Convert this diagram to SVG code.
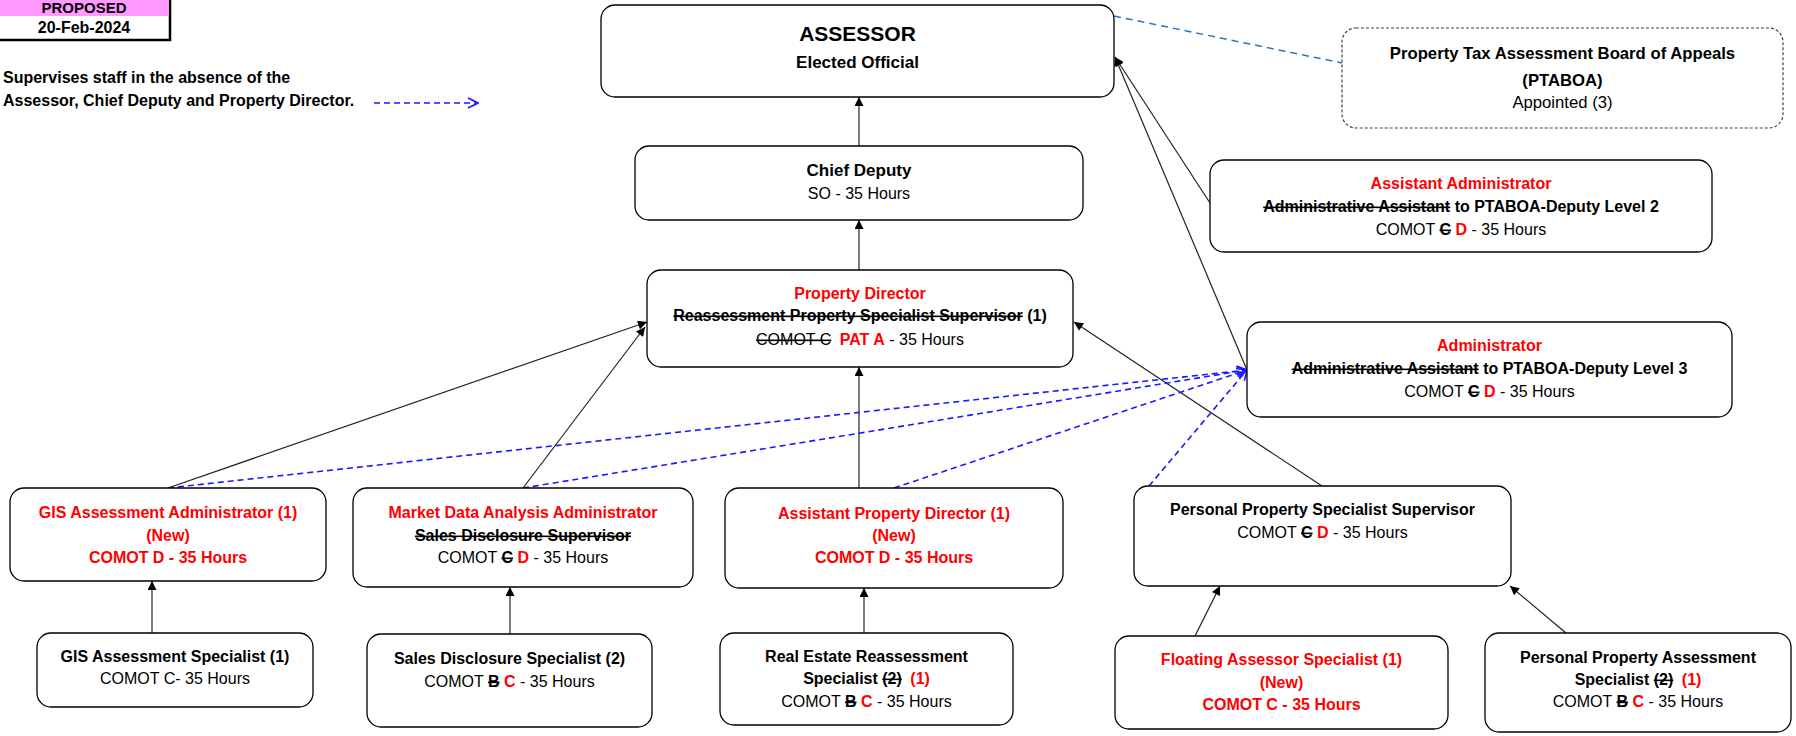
<svg xmlns="http://www.w3.org/2000/svg" width="1796" height="736" viewBox="0 0 1796 736">
<defs>
<style>
.box{fill:#fff;stroke:#000;stroke-width:1.3}
.t{font-family:"Liberation Sans",Arial,sans-serif;font-size:16px;text-anchor:middle;fill:#000}
.b{font-weight:bold}
.r{fill:#f00}
.s{text-decoration:line-through}
.c{stroke:#222;stroke-width:1.2;fill:none;marker-end:url(#ah)}
.d{stroke:#1a1aff;stroke-width:1.6;stroke-dasharray:6 4;fill:none;marker-end:url(#oh)}
</style>
<marker id="ah" viewBox="0 0 10 10" refX="10" refY="5" markerWidth="11" markerHeight="9" orient="auto" markerUnits="userSpaceOnUse"><path d="M0,0 L10,5 L0,10 z" fill="#000"/></marker>
<marker id="oh" viewBox="0 0 12 12" refX="11" refY="6" markerWidth="12" markerHeight="12" orient="auto" markerUnits="userSpaceOnUse"><path d="M1,1 L11,6 L1,11" fill="none" stroke="#1a1aff" stroke-width="1.6"/></marker>
</defs>
<rect width="1796" height="736" fill="#fff"/>

<g id="proposed">
<rect x="-3" y="-3" width="173" height="43" fill="#fff" stroke="#000" stroke-width="2.5"/>
<rect x="0" y="0" width="168.7" height="16" fill="#ff99ff"/>
<text class="t b" x="84" y="12.5" style="font-size:15px">PROPOSED</text>
<text class="t b" x="84" y="33">20-Feb-2024</text>
</g>

<g id="legend">
<text class="t b" x="3" y="83" style="text-anchor:start">Supervises staff in the absence of the</text>
<text class="t b" x="3" y="106" style="text-anchor:start">Assessor, Chief Deputy and Property Director.</text>
<line class="d" x1="374" y1="103" x2="478" y2="103"/>
</g>

<g id="connectors">
<line class="c" x1="859" y1="146" x2="859" y2="97"/>
<line class="c" x1="859" y1="270" x2="859" y2="220"/>
<line class="c" x1="1210" y1="203" x2="1115" y2="57"/>
<line class="c" x1="1247" y1="370" x2="1115" y2="57"/>
<line x1="1114" y1="16" x2="1342" y2="63" stroke="#2e75b6" stroke-width="1.5" stroke-dasharray="7 5"/>
<line class="c" x1="168" y1="488" x2="647" y2="322"/>
<line class="c" x1="523" y1="488" x2="645" y2="327"/>
<line class="c" x1="859" y1="488" x2="859" y2="367"/>
<line class="c" x1="1322" y1="486" x2="1074" y2="322"/>
<line class="c" x1="152" y1="633" x2="152" y2="581"/>
<line class="c" x1="510" y1="634" x2="510" y2="587"/>
<line class="c" x1="864" y1="633" x2="864" y2="588"/>
<line class="c" x1="1195" y1="636" x2="1220" y2="586"/>
<line class="c" x1="1566" y1="633" x2="1510" y2="586"/>
<line class="d" x1="168" y1="488" x2="1247" y2="370"/>
<line class="d" x1="523" y1="488" x2="1247" y2="370"/>
<line class="d" x1="894" y1="488" x2="1247" y2="370"/>
<line class="d" x1="1149" y1="486" x2="1247" y2="370"/>
</g>

<g id="assessor">
<rect class="box" x="601" y="5" width="513" height="92" rx="14"/>
<text class="t b" x="857.5" y="41" style="font-size:21px">ASSESSOR</text>
<text class="t b" x="857.5" y="68" style="font-size:17px">Elected Official</text>
</g>

<g id="ptaboa">
<rect x="1342" y="28" width="441" height="100" rx="14" fill="#fff" stroke="#444" stroke-width="1.2" stroke-dasharray="3 2"/>
<text class="t b" x="1562.5" y="59" style="font-size:16.7px">Property Tax Assessment Board of Appeals</text>
<text class="t b" x="1562.5" y="86" style="font-size:16.7px">(PTABOA)</text>
<text class="t" x="1562.5" y="108" style="font-size:16.7px">Appointed (3)</text>
</g>

<g id="chief-deputy">
<rect class="box" x="635" y="146" width="448" height="74" rx="14"/>
<text class="t b" x="859" y="176" style="font-size:17px">Chief Deputy</text>
<text class="t" x="859" y="199">SO - 35 Hours</text>
</g>

<g id="assistant-administrator">
<rect class="box" x="1210" y="160" width="502" height="92" rx="14"/>
<text class="t b r" x="1461" y="189">Assistant Administrator</text>
<text class="t b" x="1461" y="212"><tspan class="s">Administrative Assistant</tspan><tspan> to PTABOA-Deputy Level 2</tspan></text>
<text class="t" x="1461" y="235"><tspan>COMOT </tspan><tspan class="b s">C</tspan><tspan> </tspan><tspan class="b r">D</tspan><tspan> - 35 Hours</tspan></text>
</g>

<g id="property-director">
<rect class="box" x="647" y="270" width="426" height="97" rx="14"/>
<text class="t b r" x="860" y="299">Property Director</text>
<text class="t b" x="860" y="321"><tspan class="s">Reassessment Property Specialist Supervisor</tspan><tspan> (1)</tspan></text>
<text class="t" x="860" y="345"><tspan class="s">COMOT C</tspan><tspan>  </tspan><tspan class="b r" dx="4">PAT A</tspan><tspan> - 35 Hours</tspan></text>
</g>

<g id="administrator">
<rect class="box" x="1247" y="322" width="485" height="95" rx="14"/>
<text class="t b r" x="1489.5" y="351">Administrator</text>
<text class="t b" x="1489.5" y="374"><tspan class="s">Administrative Assistant</tspan><tspan> to PTABOA-Deputy Level 3</tspan></text>
<text class="t" x="1489.5" y="397"><tspan>COMOT </tspan><tspan class="b s">C</tspan><tspan> </tspan><tspan class="b r">D</tspan><tspan> - 35 Hours</tspan></text>
</g>

<g id="gis-admin">
<rect class="box" x="10" y="488" width="316" height="93" rx="14"/>
<text class="t b r" x="168" y="518">GIS Assessment Administrator (1)</text>
<text class="t b r" x="168" y="541">(New)</text>
<text class="t b r" x="168" y="563">COMOT D - 35 Hours</text>
</g>

<g id="market-data">
<rect class="box" x="353" y="488" width="340" height="99" rx="14"/>
<text class="t b r" x="523" y="518">Market Data Analysis Administrator</text>
<text class="t b s" x="523" y="541">Sales Disclosure Supervisor</text>
<text class="t" x="523" y="563"><tspan>COMOT </tspan><tspan class="b s">C</tspan><tspan> </tspan><tspan class="b r">D</tspan><tspan> - 35 Hours</tspan></text>
</g>

<g id="assistant-property-director">
<rect class="box" x="725" y="488" width="338" height="100" rx="14"/>
<text class="t b r" x="894" y="519">Assistant Property Director (1)</text>
<text class="t b r" x="894" y="541">(New)</text>
<text class="t b r" x="894" y="563">COMOT D - 35 Hours</text>
</g>

<g id="pp-supervisor">
<rect class="box" x="1134" y="486" width="377" height="100" rx="14"/>
<text class="t b" x="1322.5" y="515">Personal Property Specialist Supervisor</text>
<text class="t" x="1322.5" y="538"><tspan>COMOT </tspan><tspan class="b s">C</tspan><tspan> </tspan><tspan class="b r">D</tspan><tspan> - 35 Hours</tspan></text>
</g>

<g id="gis-specialist">
<rect class="box" x="37" y="633" width="276" height="74" rx="14"/>
<text class="t b" x="175" y="662">GIS Assessment Specialist (1)</text>
<text class="t" x="175" y="684">COMOT C- 35 Hours</text>
</g>

<g id="sales-specialist">
<rect class="box" x="367" y="634" width="285" height="93" rx="14"/>
<text class="t b" x="509.5" y="664">Sales Disclosure Specialist (2)</text>
<text class="t" x="509.5" y="687"><tspan>COMOT </tspan><tspan class="b s">B</tspan><tspan> </tspan><tspan class="b r">C</tspan><tspan> - 35 Hours</tspan></text>
</g>

<g id="real-estate-specialist">
<rect class="box" x="720" y="633" width="293" height="92" rx="14"/>
<text class="t b" x="866.5" y="662">Real Estate Reassessment</text>
<text class="t b" x="866.5" y="684"><tspan>Specialist </tspan><tspan class="s">(2)</tspan><tspan>  </tspan><tspan class="r" dx="4">(1)</tspan></text>
<text class="t" x="866.5" y="707"><tspan>COMOT </tspan><tspan class="b s">B</tspan><tspan> </tspan><tspan class="b r">C</tspan><tspan> - 35 Hours</tspan></text>
</g>

<g id="floating-specialist">
<rect class="box" x="1115" y="636" width="333" height="93" rx="14"/>
<text class="t b r" x="1281.5" y="665">Floating Assessor Specialist (1)</text>
<text class="t b r" x="1281.5" y="688">(New)</text>
<text class="t b r" x="1281.5" y="710">COMOT C - 35 Hours</text>
</g>

<g id="pp-assessment-specialist">
<rect class="box" x="1485" y="633" width="306" height="99" rx="14"/>
<text class="t b" x="1638" y="663">Personal Property Assessment</text>
<text class="t b" x="1638" y="685"><tspan>Specialist </tspan><tspan class="s">(2)</tspan><tspan>  </tspan><tspan class="r" dx="4">(1)</tspan></text>
<text class="t" x="1638" y="707"><tspan>COMOT </tspan><tspan class="b s">B</tspan><tspan> </tspan><tspan class="b r">C</tspan><tspan> - 35 Hours</tspan></text>
</g>
</svg>
